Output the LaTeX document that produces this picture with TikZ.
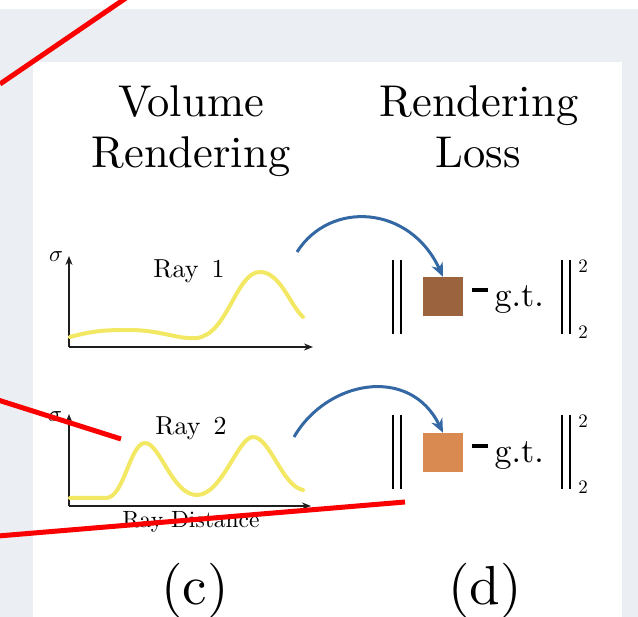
\documentclass[tikz,border=0pt]{standalone}
\usetikzlibrary{arrows.meta}
\definecolor{bgc}{RGB}{235,238,243}
\definecolor{redl}{RGB}{250,0,0}
\definecolor{bluea}{RGB}{52,104,164}
\definecolor{curvey}{RGB}{243,232,100}
\definecolor{brownsq}{RGB}{155,100,62}
\definecolor{orangesq}{RGB}{217,138,80}
\definecolor{axisc}{RGB}{30,30,30}
\tikzset{
  txt/.style={font=\fontsize{10}{12}\selectfont, inner sep=0pt},
  head/.style={txt, anchor=base, scale=4.45},
  raylabel/.style={txt, anchor=base, scale=2.6},
  axisline/.style={draw=axisc, line width=1.8pt, -{Stealth[length=9pt,width=7pt]}},
  curve/.style={draw=curvey, line width=4pt, line cap=round},
  redline/.style={draw=redl, line width=5pt},
  bluearrow/.style={draw=bluea, line width=3pt, -{Stealth[length=14pt,width=12pt]}},
  normbar/.style={draw=black, line width=2.6pt},
  dashbar/.style={draw=black, line width=3.5pt},
  sq/.style={minimum width=40pt, minimum height=39pt, inner sep=0pt, draw=none},
  gt/.style={txt, anchor=base west, scale=3.4},
  idx/.style={txt, scale=1.9},
  sublabel/.style={txt, anchor=base, scale=5.5}
}
\begin{document}
\begin{tikzpicture}[x=1pt,y=-1pt]
\useasboundingbox (0,0) rectangle (638,617);
% background photo (blurred)
\fill[bgc] (0,0) rectangle (638,617);
\fill[white] (0,0) rectangle (638,9);
% white panel
\fill[white] (33,62) rectangle (622,617);

% headings
\node[head] (h1a) at (191,117) {Volume};
\node[head] (h1b) at (191,168) {Rendering};
\node[head] (h2a) at (479,117) {Rendering};
\node[head] (h2b) at (478,168) {Loss};

% plot 1
\coordinate (o1) at (69,347);
\coordinate (y1) at (69,256);
\coordinate (x1) at (313,347);
\draw[axisline] (o1) -- (y1);
\draw[axisline] (o1) -- (x1);
\node[txt, scale=2.3] (s1) at (56,257) {$\sigma$};
\draw[curve] (70,337) .. controls (95,330) and (110,330) .. (130,330)
  .. controls (160,330) and (180,340) .. (197,338)
  .. controls (228,334) and (236,272) .. (260,272)
  .. controls (280,272) and (290,305) .. (303,317);
\node[raylabel] (r1) at (189,278) {Ray\hspace{0.5em}1};

% plot 2
\coordinate (o2) at (69,506);
\coordinate (y2) at (69,414);
\coordinate (x2) at (311,506);
\draw[axisline] (o2) -- (y2);
\draw[axisline] (o2) -- (x2);
\node[txt, scale=2.3] (s2) at (55,417) {$\sigma$};
\draw[curve] (70,498) -- (106,498)
  .. controls (124,498) and (130,443) .. (145,443)
  .. controls (160,443) and (172,495) .. (197,495)
  .. controls (222,495) and (238,437) .. (253,437)
  .. controls (270,437) and (282,486) .. (303,490);
\node[raylabel] (r2) at (191,435) {Ray\hspace{0.5em}2};
\node[txt, anchor=base, scale=2.35] (rd) at (191,528) {Ray Distance};

% loss row 1
\node[sq, fill=brownsq] (sq1) at (443,296.5) {};
\draw[normbar] (393,260) -- (393,334);
\draw[normbar] (401,260) -- (401,334);
\draw[normbar] (562,260) -- (562,334);
\draw[normbar] (570,260) -- (570,334);
\coordinate (m1a) at (472,290);
\coordinate (m1b) at (488,290);
\draw[dashbar] (m1a) -- (m1b);
\node[gt] (gt1) at (494,307) {g.t.};
\node[idx] (p1) at (583,266) {2};
\node[idx] (q1) at (583,332) {2};
\coordinate (a1) at (297,252);
\draw[bluearrow] (a1) .. controls (330,200) and (410,205) .. (sq1.north);

% loss row 2
\node[sq, fill=orangesq] (sq2) at (443,452.5) {};
\draw[normbar] (393,415) -- (393,489);
\draw[normbar] (401,415) -- (401,489);
\draw[normbar] (562,415) -- (562,489);
\draw[normbar] (570,415) -- (570,489);
\coordinate (m2a) at (472,446);
\coordinate (m2b) at (488,446);
\draw[dashbar] (m2a) -- (m2b);
\node[gt] (gt2) at (494,463) {g.t.};
\node[idx] (p2) at (583,421) {2};
\node[idx] (q2) at (583,487) {2};
\coordinate (a2) at (294,437);
\draw[bluearrow] (a2) .. controls (327,380) and (410,365) .. (sq2.north);

% sub labels
\node[sublabel] (c) at (195,605) {(c)};
\node[sublabel] (d) at (485,605) {(d)};

% red lines
\coordinate (ra) at (0,84);
\coordinate (rb) at (126,-2);
\draw[redline] (ra) -- (rb);
\coordinate (rc) at (-2,400);
\coordinate (rd2) at (121,439);
\draw[redline] (rc) -- (rd2);
\coordinate (re) at (-2,536);
\coordinate (rf) at (405,502);
\draw[redline] (re) -- (rf);
\end{tikzpicture}
\end{document}
